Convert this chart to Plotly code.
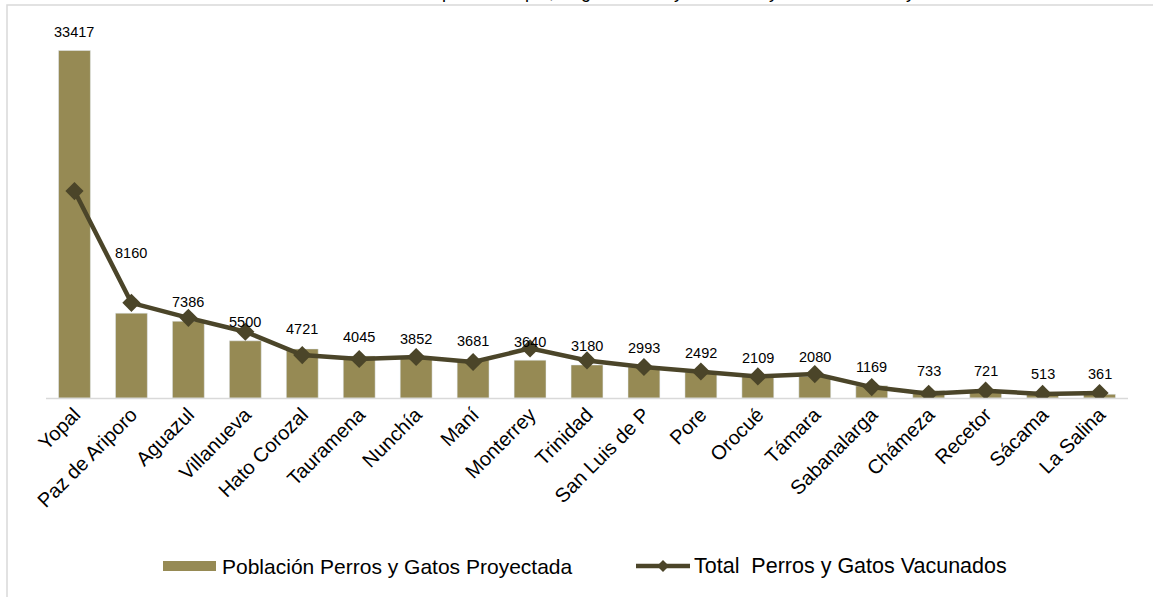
import plotly.graph_objects as go

categories = ["Yopal", "Paz de Ariporo", "Aguazul", "Villanueva", "Hato Corozal", "Tauramena",
              "Nunchía", "Maní", "Monterrey", "Trinidad", "San Luis de P", "Pore", "Orocué",
              "Támara", "Sabanalarga", "Chámeza", "Recetor", "Sácama", "La Salina"]
poblacion = [33417, 8160, 7386, 5500, 4721, 4045, 3852, 3681, 3640, 3180, 2993, 2492, 2109,
             2080, 1169, 733, 721, 513, 361]
vacunados = [19900, 9150, 7710, 6370, 4130, 3750, 3940, 3460, 4770, 3610, 2980, 2550, 2070,
             2300, 1050, 410, 700, 390, 480]
label_shift = [18, 60, 19, 19, 20, 19, 19, 19, 18, 19, 19, 19, 18, 19, 19, 19, 20, 19, 20]

title_text = ("Gráfica 45. Cobertura de Vacunación Antirrábica por Municipio, Según Perros y Gatos "
              "Proyectado - Perros y Gatos Vacunados")
name_bar = "Población Perros y Gatos Proyectada"
name_line = "Total  Perros y Gatos Vacunados"

BAR_COLOR = "#968a54"
LINE_COLOR = "#4b4529"
FONT = "Liberation Sans, Arial, sans-serif"

W, H = 1153, 597
ML, MR, MT, MB = 46, 25, 34, 199
PW, PH = W - ML - MR, H - MT - MB


def px(x):
    return (x - ML) / PW


def py(y):
    return (H - MB - y) / PH


fig = go.Figure()
fig.add_trace(go.Bar(x=categories, y=poblacion, name=name_bar, marker_color=BAR_COLOR,
                     showlegend=False))
fig.add_trace(go.Scatter(x=categories, y=vacunados, name=name_line, mode="lines+markers",
                         line=dict(color=LINE_COLOR, width=4.5),
                         marker=dict(symbol="diamond", size=14, color=LINE_COLOR),
                         showlegend=False))

annotations = []
for c, v, s in zip(categories, poblacion, label_shift):
    annotations.append(dict(x=c, y=v, xref="x", yref="y", text=str(v), showarrow=False,
                            yshift=s, yanchor="middle",
                            font=dict(family=FONT, size=14.5, color="#000000")))

# title (cut off at top, as in the reference)
annotations.append(dict(x=px(556), y=py(-8), xref="paper", yref="paper", text=title_text,
                        showarrow=False, xanchor="center", yanchor="middle",
                        font=dict(family=FONT, size=18, color="#000000")))

# manual legend
annotations.append(dict(x=px(220), y=py(566), xref="paper", yref="paper", text=name_bar,
                        showarrow=False, xanchor="left", yanchor="middle",
                        font=dict(family=FONT, size=21, color="#000000")))
annotations.append(dict(x=px(692), y=py(566), xref="paper", yref="paper", text=name_line,
                        showarrow=False, xanchor="left", yanchor="middle",
                        font=dict(family=FONT, size=21.5, color="#000000")))

shapes = [
    # chart frame
    dict(type="rect", xref="paper", yref="paper", x0=px(7), x1=px(1175), y0=py(5), y1=py(620),
         line=dict(color="#d9d9d9", width=1.5), fillcolor="rgba(0,0,0,0)", layer="below"),
    # axis baseline
    dict(type="line", xref="paper", yref="paper", x0=0, x1=1, y0=py(398.5), y1=py(398.5),
         line=dict(color="#d9d9d9", width=1.5)),
    # legend keys
    dict(type="rect", xref="paper", yref="paper", x0=px(163), x1=px(216), y0=py(571), y1=py(561),
         fillcolor=BAR_COLOR, line=dict(width=0)),
    dict(type="line", xref="paper", yref="paper", x0=px(636), x1=px(690), y0=py(566), y1=py(566),
         line=dict(color=LINE_COLOR, width=4.5)),
    dict(type="path", xref="paper", yref="paper",
         path=f"M {px(663)} {py(560)} L {px(669)} {py(566)} L {px(663)} {py(572)} L {px(657)} {py(566)} Z",
         fillcolor=LINE_COLOR, line=dict(width=0)),
]

fig.update_layout(
    width=W, height=H,
    margin=dict(l=ML, r=MR, t=MT, b=MB, autoexpand=False),
    paper_bgcolor="white", plot_bgcolor="white",
    bargap=0.44,
    showlegend=False,
    font=dict(family=FONT, color="#000000"),
    xaxis=dict(range=[-0.5, len(categories) - 0.5], tickangle=-45,
               tickfont=dict(family=FONT, size=20, color="#000000"),
               showgrid=False, showline=False, ticks="", zeroline=False, automargin=False),
    yaxis=dict(range=[0, 35000], visible=False, showgrid=False, zeroline=False, automargin=False),
    annotations=annotations,
    shapes=shapes,
)

fig.write_html("out.html", config={"displayModeBar": False},
               post_script="document.body.style.margin='0';document.body.style.overflow='hidden';")
